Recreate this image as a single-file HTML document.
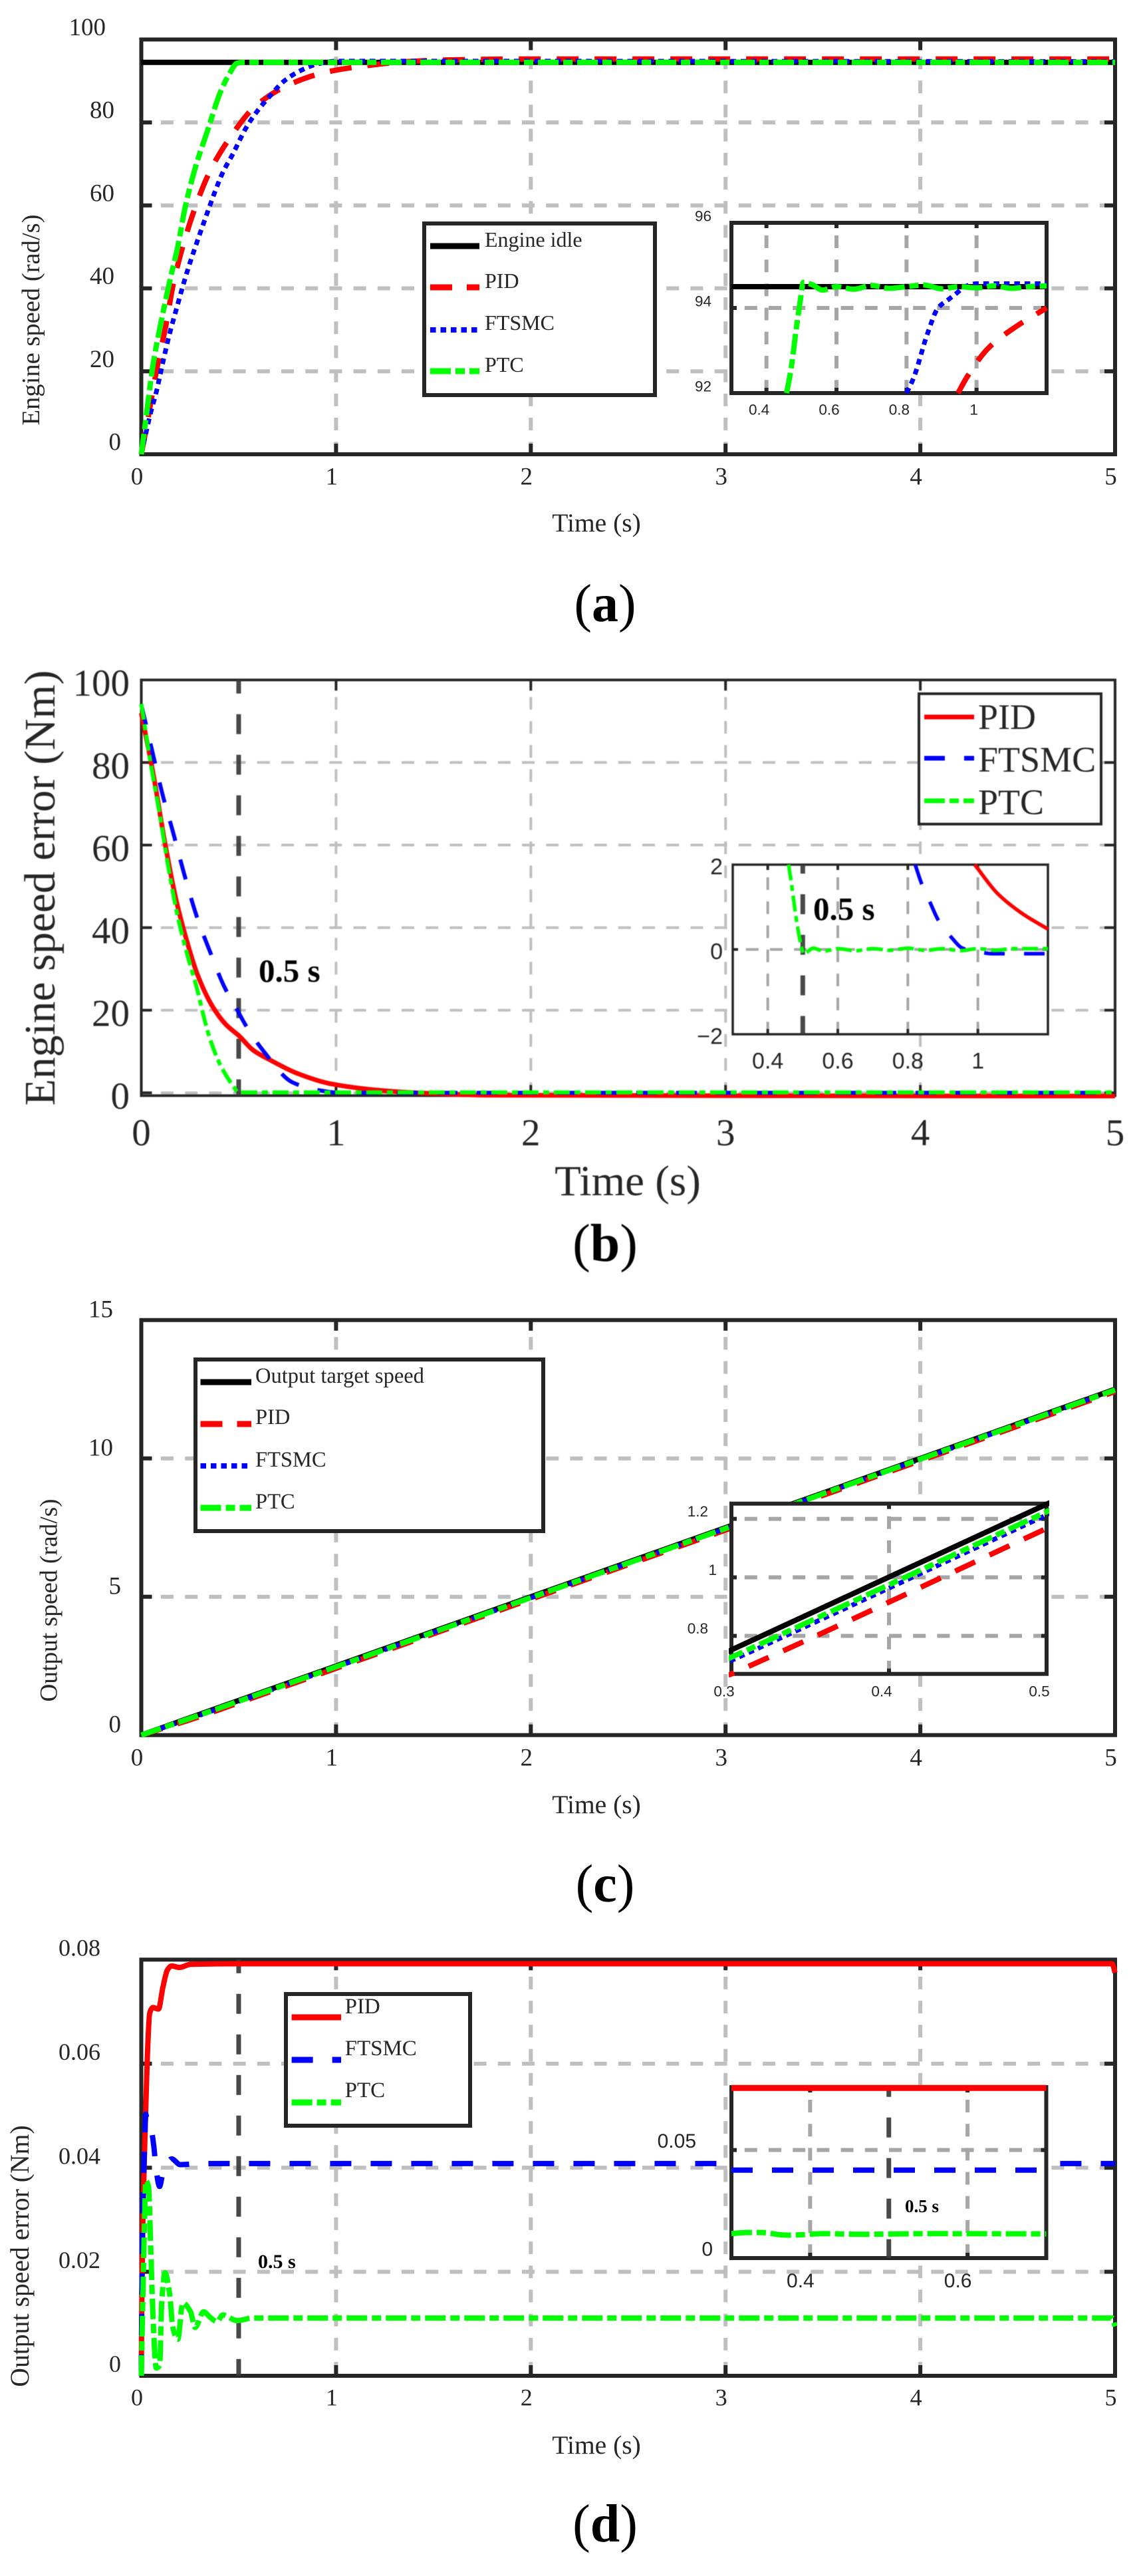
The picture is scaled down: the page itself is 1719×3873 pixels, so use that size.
<!DOCTYPE html>
<html lang="en">
<head>
<meta charset="utf-8">
<title>Engine and output speed tracking charts</title>
<style>
html,body{margin:0;padding:0;background:#fff;}
svg{display:block;}
text{fill:#262626;font-family:"Liberation Serif",serif;}
.sans{font-family:"Liberation Sans",sans-serif;}
.cap{fill:#000;}
.legend-box{fill:#fff;stroke:#262626;}
</style>
</head>
<body>
<svg id="figure" xmlns="http://www.w3.org/2000/svg" width="1719" height="3873" viewBox="0 0 1719 3873">
  <rect x="0" y="0" width="1719" height="3873" fill="#fff"/>

  <!-- PANEL A -->
  <g>
    <g id="a-main"></g>
    <text x="897" y="799" font-size="39.5" text-anchor="middle">Time (s)</text>
    <text transform="translate(59,481) rotate(-90)" font-size="38.6" text-anchor="middle">Engine speed (rad/s)</text>
    <g>
      <rect class="legend-box" x="638" y="336" width="347" height="258" stroke-width="6"/>
      <line x1="647" x2="721" y1="370" y2="370" stroke="#000" stroke-width="9"/>
      <text x="729" y="371" font-size="32">Engine idle</text>
      <line x1="647" x2="721" y1="432" y2="432" stroke="#f00" stroke-width="9" stroke-dasharray="33 22"/>
      <text x="729" y="433" font-size="32">PID</text>
      <line x1="647" x2="721" y1="496" y2="496" stroke="#00f" stroke-width="8" stroke-dasharray="8.5 7"/>
      <text x="729" y="496" font-size="32">FTSMC</text>
      <line x1="647" x2="721" y1="558" y2="558" stroke="#0f0" stroke-width="9" stroke-dasharray="31 7 14 7"/>
      <text x="729" y="559" font-size="32">PTC</text>
    </g>
    <g id="a-inset"></g>
    <text class="cap" x="910" y="934" font-size="80" text-anchor="middle">(<tspan font-weight="bold" class="cap">a</tspan>)</text>
  </g>

  <!-- PANEL B -->
  <g style="filter:blur(0.6px)">
    <g id="b-main"></g>
    <text x="944" y="1797" font-size="65" text-anchor="middle">Time (s)</text>
    <text transform="translate(82,1335) rotate(-90)" font-size="65.7" text-anchor="middle">Engine speed error (Nm)</text>
    <text class="cap" x="389" y="1476" font-size="49" font-weight="bold">0.5 s</text>
    <g>
      <rect class="legend-box" x="1382" y="1043" width="274" height="196" stroke-width="4"/>
      <line x1="1390" x2="1465" y1="1078" y2="1078" stroke="#f00" stroke-width="7"/>
      <text x="1471" y="1096" font-size="54">PID</text>
      <line x1="1390" x2="1465" y1="1140" y2="1140" stroke="#00f" stroke-width="7" stroke-dasharray="31 29"/>
      <text x="1471" y="1160" font-size="54">FTSMC</text>
      <line x1="1390" x2="1465" y1="1204" y2="1204" stroke="#0f0" stroke-width="7" stroke-dasharray="31 7 14 7"/>
      <text x="1471" y="1224" font-size="54">PTC</text>
    </g>
    <g id="b-inset"></g>
    <text class="cap" x="1223" y="1383" font-size="49" font-weight="bold">0.5 s</text>
    <text class="cap" x="910" y="1896" font-size="80" text-anchor="middle">(<tspan font-weight="bold" class="cap">b</tspan>)</text>
  </g>

  <!-- PANEL C -->
  <g>
    <g id="c-main"></g>
    <text x="897" y="2726" font-size="39.5" text-anchor="middle">Time (s)</text>
    <text transform="translate(85.5,2406) rotate(-90)" font-size="37.4" text-anchor="middle">Output speed (rad/s)</text>
    <g>
      <rect class="legend-box" x="294" y="2044" width="523" height="258" stroke-width="6"/>
      <line x1="301.5" x2="378" y1="2078" y2="2078" stroke="#000" stroke-width="9"/>
      <text x="384" y="2079" font-size="32.5">Output target speed</text>
      <line x1="301.5" x2="378" y1="2141" y2="2141" stroke="#f00" stroke-width="9" stroke-dasharray="33 22"/>
      <text x="384" y="2141" font-size="32.5">PID</text>
      <line x1="301.5" x2="378" y1="2204" y2="2204" stroke="#00f" stroke-width="8" stroke-dasharray="8.5 7"/>
      <text x="384" y="2205" font-size="32.5">FTSMC</text>
      <line x1="301.5" x2="378" y1="2267" y2="2267" stroke="#0f0" stroke-width="9" stroke-dasharray="31 7 14 7"/>
      <text x="384" y="2268" font-size="32.5">PTC</text>
    </g>
    <g id="c-inset"></g>
    <text class="cap" x="910" y="2859" font-size="80" text-anchor="middle">(<tspan font-weight="bold" class="cap">c</tspan>)</text>
  </g>

  <!-- PANEL D -->
  <g>
    <g id="d-main"></g>
    <text x="897" y="3689" font-size="39.5" text-anchor="middle">Time (s)</text>
    <text transform="translate(43,3392) rotate(-90)" font-size="39.7" text-anchor="middle">Output speed error (Nm)</text>
    <text class="cap" x="388" y="3410" font-size="30" font-weight="bold">0.5 s</text>
    <g>
      <rect class="legend-box" x="430" y="2998" width="277" height="198" stroke-width="6"/>
      <line x1="438.6" x2="513" y1="3033" y2="3033" stroke="#f00" stroke-width="9"/>
      <text x="518.6" y="3027" font-size="33">PID</text>
      <line x1="438.6" x2="513" y1="3097" y2="3097" stroke="#00f" stroke-width="9" stroke-dasharray="32 29"/>
      <text x="518.6" y="3090" font-size="33">FTSMC</text>
      <line x1="438.6" x2="513" y1="3161" y2="3161" stroke="#0f0" stroke-width="9" stroke-dasharray="31 7 14 7"/>
      <text x="518.6" y="3153" font-size="33">PTC</text>
    </g>
    <g id="d-inset"></g>
    <text class="cap" x="1361" y="3326" font-size="27" font-weight="bold">0.5 s</text>
    <text class="cap" x="910" y="3821" font-size="80" text-anchor="middle">(<tspan font-weight="bold" class="cap">d</tspan>)</text>
  </g>
</svg>

<script>
/* ---------- shared axis values ---------- */
const timeTicks = [0, 1, 2, 3, 4, 5];
const timeTickLabels = ['0', '1', '2', '3', '4', '5'];
const timeGrid = [1, 2, 3, 4];

/* ---------- panel (a) engine speed ---------- */
const aYTicks = [0, 20, 40, 60, 80, 100];
const aYTickLabels = ['0', '20', '40', '60', '80', '100'];
const aYGrid = [20, 40, 60, 80];
const aTimeIdle = [0, 5];
const aIdle = [94.5, 94.5];
const aTimePid = [0, 0.03, 0.06, 0.088, 0.126, 0.162, 0.211, 0.273, 0.35, 0.455, 0.583, 0.763, 0.955, 1.158, 1.37, 1.6, 2, 5];
const aPid = [0, 7.5, 15.5, 22.6, 31, 40.5, 49.8, 59, 68, 76.3, 83.8, 89.2, 92.2, 93.7, 94.7, 95.1, 95.3, 95.3];
const aTimeFtsmc = [0, 0.02, 0.048, 0.077, 0.111, 0.145, 0.185, 0.213, 0.242, 0.276, 0.31, 0.344, 0.379, 0.418, 0.469, 0.538, 0.595, 0.663, 0.731, 0.822, 0.913, 1.005, 5];
const aFtsmc = [0, 4.3, 10, 15, 22.2, 29, 35.8, 40.5, 45, 49.8, 54.4, 58.9, 63.4, 67.9, 72.3, 78.7, 82.7, 86.5, 89.9, 92.6, 94.2, 94.8, 94.7];
const aTimePtc = [0, 0.02, 0.06, 0.1, 0.145, 0.187, 0.225, 0.28, 0.34, 0.407, 0.452, 0.492, 0.52, 5];
const aPtc = [0, 7.2, 21.5, 31.5, 41.5, 50, 59.5, 69.5, 78, 87.4, 91.7, 94.3, 94.5, 94.5];

const aInsetXTicks = [0.4, 0.6, 0.8, 1];
const aInsetXLabels = ['0.4', '0.6', '0.8', '1'];
const aInsetYTicks = [92, 94, 96];
const aInsetYLabels = ['92', '94', '96'];
const aInsetYGrid = [94];
const aInsetTimeIdle = [0.3, 1.2];
const aInsetIdle = [94.5, 94.5];
const aInsetTimePid = [0.947, 0.973, 1.033, 1.116, 1.194, 1.2];
const aInsetPid = [92, 92.38, 93.05, 93.58, 93.97, 94];
const aInsetTimeFtsmc = [0.8, 0.82, 0.86, 0.89, 0.92, 0.945, 0.966, 1, 1.2];
const aInsetFtsmc = [92, 92.35, 93.4, 94, 94.2, 94.36, 94.5, 94.57, 94.57];
const aInsetTimePtc = [0.4576, 0.47, 0.485, 0.498, 0.505, 0.53, 0.56, 0.6, 0.65, 0.7, 0.75, 0.8, 0.85, 0.9, 0.95, 1, 1.05, 1.1, 1.15, 1.2];
const aInsetPtc = [92, 92.55, 93.5, 94.25, 94.6, 94.55, 94.42, 94.5, 94.44, 94.53, 94.46, 94.5, 94.54, 94.45, 94.5, 94.47, 94.52, 94.46, 94.5, 94.52];

/* ---------- panel (b) engine speed error ---------- */
const bYTicks = [0, 20, 40, 60, 80, 100];
const bYTickLabels = ['0', '20', '40', '60', '80', '100'];
const bYGrid = [0, 20, 40, 60, 80];
const bTimePid = [0, 0.06, 0.122, 0.179, 0.23, 0.287, 0.367, 0.435, 0.504, 0.572, 0.663, 0.8, 0.97, 1.2, 1.37, 1.8, 5];
const bPid = [92, 77.6, 60.4, 46.7, 37.4, 28.8, 20.8, 16.5, 13.7, 10.4, 7.9, 4.7, 2.2, 0.7, 0.1, -0.6, -0.8];
const bTimeFtsmc = [0, 0.06, 0.111, 0.162, 0.219, 0.287, 0.356, 0.424, 0.492, 0.538, 0.629, 0.777, 0.913, 1.016, 5];
const bFtsmc = [94, 82, 71.9, 63.3, 53.2, 42.4, 33.8, 25.9, 20.1, 16.2, 10, 2.5, 0.6, 0, 0];
const bTimePtc = [0, 0.048, 0.094, 0.139, 0.185, 0.23, 0.282, 0.344, 0.401, 0.475, 0.498, 5];
const bPtc = [94.2, 79.8, 67.6, 54.6, 43.1, 34.5, 25.9, 14.4, 7.2, 1.4, 0.1, 0.1];

const bInsetXTicks = [0.4, 0.6, 0.8, 1];
const bInsetXLabels = ['0.4', '0.6', '0.8', '1'];
const bInsetYTicks = [-2, 0, 2];
const bInsetYLabels = ['\u22122', '0', '2'];
const bInsetYGrid = [0];
const bInsetTimePid = [0.991, 1.056, 1.126, 1.2];
const bInsetPid = [2, 1.32, 0.85, 0.48];
const bInsetTimeFtsmc = [0.821, 0.838, 0.864, 0.887, 0.926, 0.956, 1, 1.04, 1.2];
const bInsetFtsmc = [2, 1.58, 1.1, 0.69, 0.27, 0.03, -0.05, -0.1, -0.1];
const bInsetTimePtc = [0.4595, 0.468, 0.482, 0.495, 0.503, 0.53, 0.56, 0.6, 0.65, 0.7, 0.75, 0.8, 0.85, 0.9, 0.95, 1, 1.05, 1.1, 1.2];
const bInsetPtc = [2, 1.53, 0.69, 0.11, -0.1, 0.03, -0.04, 0.02, -0.03, 0.02, -0.02, 0.03, -0.02, 0.02, -0.03, 0.02, -0.02, 0.02, 0.02];

/* ---------- panel (c) output speed ---------- */
const cYTicks = [0, 5, 10, 15];
const cYTickLabels = ['0', '5', '10', '15'];
const cYGrid = [5, 10];
const cTime = [0, 0.3, 0.5, 5];
const cTarget = [0, 0.752, 1.25, 12.5];
const cPid = [0, 0.67, 1.167, 12.417];
const cFtsmc = [0, 0.716, 1.213, 12.465];
const cPtc = [0, 0.727, 1.224, 12.475];

const cInsetXTicks = [0.3, 0.4, 0.5];
const cInsetXLabels = ['0.3', '0.4', '0.5'];
const cInsetXGrid = [0.4];
const cInsetYTicks = [0.8, 1, 1.2];
const cInsetYLabels = ['0.8', '1', '1.2'];

/* ---------- panel (d) output speed error ---------- */
const dYTicks = [0, 0.02, 0.04, 0.06, 0.08];
const dYTickLabels = ['0', '0.02', '0.04', '0.06', '0.08'];
const dYGrid = [0.02, 0.04, 0.06];
const dTimePid = [0, 0.003, 0.0085, 0.02, 0.031, 0.043, 0.06, 0.088, 0.111, 0.134, 0.156, 0.196, 0.253, 0.5, 4.985, 5];
const dPid = [0, 0.016, 0.0309, 0.0475, 0.0613, 0.0697, 0.0708, 0.0705, 0.0747, 0.078, 0.0788, 0.0785, 0.0791, 0.0792, 0.0792, 0.0775];
const dTimeFtsmc = [0, 0.004, 0.01, 0.016, 0.023, 0.03, 0.05, 0.065, 0.075, 0.094, 0.108, 0.122, 0.156, 0.2, 0.31, 5];
const dFtsmc = [0, 0.02, 0.035, 0.043, 0.0503, 0.049, 0.0475, 0.0439, 0.04, 0.0364, 0.0385, 0.04, 0.0417, 0.0406, 0.0408, 0.0408];
const dTimePtc = [0, 0.014, 0.023, 0.037, 0.048, 0.06, 0.077, 0.094, 0.105, 0.122, 0.145, 0.162, 0.187, 0.213, 0.253, 0.276, 0.32, 0.355, 0.39, 0.418, 0.492, 0.572, 4.985, 5];
const dPtc = [0, 0.0253, 0.0375, 0.0364, 0.0253, 0.0115, 0.0015, 0.002, 0.0142, 0.0198, 0.0159, 0.0093, 0.007, 0.014, 0.0123, 0.0093, 0.0123, 0.0112, 0.0104, 0.0117, 0.0106, 0.0111, 0.0111, 0.0095];

const dInsetXTicks = [0.4, 0.6];
const dInsetXLabels = ['0.4', '0.6'];
const dInsetYTicks = [0, 0.05];
const dInsetYLabels = ['0', '0.05'];
const dInsetYGrid = [0.05];
const dInsetTime = [0.3, 0.7];
const dInsetPid = [0.0787, 0.0787];
const dInsetFtsmc = [0.0407, 0.0407];
const dInsetTimePtc = [0.3, 0.319, 0.338, 0.3695, 0.3895, 0.416, 0.466, 0.55, 0.7];
const dInsetPtc = [0.0113, 0.0118, 0.0118, 0.0106, 0.0108, 0.0113, 0.011, 0.0113, 0.0112];

/* ---------- drawing helpers ---------- */
const SVG_NS = 'http://www.w3.org/2000/svg';
const FRAME = '#262626';
function add(tag, parent, attrs, text) {
  const node = document.createElementNS(SVG_NS, tag);
  for (const key in attrs) node.setAttribute(key, attrs[key]);
  if (text !== undefined) node.textContent = text;
  parent.appendChild(node);
  return node;
}
function scale(d0, d1, r0, r1) {
  return function (v) { return r0 + (v - d0) * (r1 - r0) / (d1 - d0); };
}
/* monotone cubic through the data points: smooth, with no overshoot */
function curvePath(xs, ys) {
  const n = xs.length;
  if (n < 3) return 'M' + xs[0] + ' ' + ys[0] + 'L' + xs[n - 1] + ' ' + ys[n - 1];
  const h = [], m = [], d = [];
  for (let i = 0; i < n - 1; i++) {
    h.push(xs[i + 1] - xs[i]);
    m.push((ys[i + 1] - ys[i]) / h[i]);
  }
  d.push(m[0]);
  for (let i = 1; i < n - 1; i++) {
    if (m[i - 1] * m[i] <= 0) d.push(0);
    else {
      const w1 = 2 * h[i] + h[i - 1], w2 = h[i] + 2 * h[i - 1];
      d.push((w1 + w2) / (w1 / m[i - 1] + w2 / m[i]));
    }
  }
  d.push(m[n - 2]);
  let path = 'M' + xs[0].toFixed(2) + ' ' + ys[0].toFixed(2);
  for (let i = 0; i < n - 1; i++) {
    const c = h[i] / 3;
    path += 'C' + (xs[i] + c).toFixed(2) + ' ' + (ys[i] + d[i] * c).toFixed(2) + ' ' +
      (xs[i + 1] - c).toFixed(2) + ' ' + (ys[i + 1] - d[i + 1] * c).toFixed(2) + ' ' +
      xs[i + 1].toFixed(2) + ' ' + ys[i + 1].toFixed(2);
  }
  return path;
}
let clipCount = 0;

function drawPlot(id, p) {
  const g = document.getElementById(id);
  const b = p.box;
  const x = scale(p.xlim[0], p.xlim[1], b.l, b.r);
  const y = scale(p.ylim[0], p.ylim[1], b.b, b.t);

  if (p.white) {
    const bg = add('rect', g, { x: b.l, y: b.t, width: b.r - b.l, height: b.b - b.t, fill: '#fff' });
    
    
  }

  p.xGrid.forEach(function (t) {
    const el = add('line', g, { x1: x(t), x2: x(t), y1: b.t, y2: b.b, stroke: p.gridColor, 'stroke-width': p.gridWidth, 'stroke-dasharray': '19 17.2', 'stroke-dashoffset': p.vPhase });
    
    
  });
  p.yGrid.forEach(function (v) {
    const el = add('line', g, { x1: b.l, x2: b.r, y1: y(v), y2: y(v), stroke: p.gridColor, 'stroke-width': p.gridWidth, 'stroke-dasharray': '19 17.2', 'stroke-dashoffset': p.hPhase });
    
    
  });

  const frame = add('rect', g, { x: b.l, y: b.t, width: b.r - b.l, height: b.b - b.t, fill: 'none', stroke: FRAME, 'stroke-width': p.frameWidth });
  
  

  p.xGrid.forEach(function (t) {
    [[b.b, b.b - p.tickLen], [b.t, b.t + p.tickLen]].forEach(function (ends) {
      const el = add('line', g, { x1: x(t), x2: x(t), y1: ends[0], y2: ends[1], stroke: FRAME, 'stroke-width': p.tickWidth });
      
      
    });
  });
  p.yGrid.forEach(function (v) {
    [[b.l, b.l + p.tickLen], [b.r, b.r - p.tickLen]].forEach(function (ends) {
      const el = add('line', g, { x1: ends[0], x2: ends[1], y1: y(v), y2: y(v), stroke: FRAME, 'stroke-width': p.tickWidth });
      
      
    });
  });

  p.xTicks.forEach(function (t, i) {
    const shift = p.xLabelShift(p.xLabels[i]);
    const el = add('text', g, { x: x(t) + shift, y: p.xLabelCy + 0.34 * p.labelSize, 'font-size': p.labelSize, 'text-anchor': 'middle', class: p.sans ? 'sans' : '' }, p.xLabels[i]);
    
    
  });
  p.yTicks.forEach(function (v, i) {
    const el = add('text', g, { x: p.yLabelRight(p.yLabels[i]), y: y(v) + p.yLabelDy + 0.34 * p.labelSize, 'font-size': p.labelSize, 'text-anchor': 'end', class: p.sans ? 'sans' : '' }, p.yLabels[i]);
    
    
  });

  if (p.marker !== undefined) {
    const mk = add('line', g, { x1: x(p.marker), x2: x(p.marker), y1: b.t, y2: b.b, stroke: '#3a3a3a', 'stroke-width': 7, 'stroke-opacity': 0.92, 'stroke-dasharray': '30 31', 'stroke-dashoffset': p.markerPhase });
    
    
  }

  clipCount += 1;
  const clipId = 'clip-' + clipCount;
  const defs = add('clipPath', g, { id: clipId });
  add('rect', defs, { x: b.l - 4, y: b.t - 5, width: b.r - b.l + 8, height: b.b - b.t + 10 });

  p.series.forEach(function (s) {
    const d = curvePath(s.t.map(x), s.v.map(y));
    const el = add('path', g, { d: d, fill: 'none', stroke: s.color, 'stroke-width': s.width, 'stroke-dasharray': s.dash || 'none', 'stroke-linejoin': 'round', 'clip-path': 'url(#' + clipId + ')' });
    
    
  });
}

const DOT = '8.5 7', RDASH = '33 24', BDASH = '31 29', GDASH = '31 7 14 7';
const mainBase = { xlim: [0, 5], xTicks: timeTicks, xLabels: timeTickLabels, xGrid: timeGrid, gridColor: '#bfbfbf', hPhase: 6.7, vPhase: 10.6, labelSize: 37 };
const insetBase = { gridColor: '#a6a6a6', gridWidth: 6, hPhase: 16.4, vPhase: 17.2, tickLen: 8, tickWidth: 6, frameWidth: 6, white: true, sans: true };
const shiftMain = function () { return -6.5; };
const rightSerif = function (s) { return s.length === 1 ? 182 : (s.length === 2 ? 172 : 159); };

/* panel a */
drawPlot('a-main', Object.assign({}, mainBase, {
  box: { l: 212.5, r: 1677, t: 59.4, b: 683 }, ylim: [0, 100],
  yTicks: aYTicks, yLabels: aYTickLabels, yGrid: aYGrid,
  gridWidth: 6, frameWidth: 6, tickLen: 16, tickWidth: 6,
  xLabelCy: 716, xLabelShift: shiftMain, yLabelRight: rightSerif, yLabelDy: -19,
  series: [
    { name: 'engine-idle', t: aTimeIdle, v: aIdle, color: '#000', width: 8 },
    { name: 'pid', t: aTimePid, v: aPid, color: '#f00', width: 8, dash: RDASH },
    { name: 'ftsmc', t: aTimeFtsmc, v: aFtsmc, color: '#00f', width: 7, dash: DOT },
    { name: 'ptc', t: aTimePtc, v: aPtc, color: '#0f0', width: 8, dash: GDASH }
  ]
}));
drawPlot('a-inset', Object.assign({}, insetBase, {
  box: { l: 1100, r: 1574, t: 335, b: 591 }, xlim: [0.3, 1.2], ylim: [92, 96],
  xTicks: aInsetXTicks, xLabels: aInsetXLabels, xGrid: aInsetXTicks,
  yTicks: aInsetYTicks, yLabels: aInsetYLabels, yGrid: aInsetYGrid,
  labelSize: 22.5, xLabelCy: 616,
  xLabelShift: function (s) { return s === '1' ? -4 : -11; },
  yLabelRight: function () { return 1070; }, yLabelDy: -10,
  series: [
    { name: 'engine-idle', t: aInsetTimeIdle, v: aInsetIdle, color: '#000', width: 8 },
    { name: 'pid', t: aInsetTimePid, v: aInsetPid, color: '#f00', width: 8, dash: RDASH },
    { name: 'ftsmc', t: aInsetTimeFtsmc, v: aInsetFtsmc, color: '#00f', width: 7, dash: DOT },
    { name: 'ptc', t: aInsetTimePtc, v: aInsetPtc, color: '#0f0', width: 8, dash: GDASH }
  ]
}));

/* panel b */
drawPlot('b-main', Object.assign({}, mainBase, {
  box: { l: 212.5, r: 1677, t: 1022.3, b: 1647.3 }, ylim: [-0.7, 100],
  yTicks: bYTicks, yLabels: bYTickLabels, yGrid: bYGrid,
  gridWidth: 4, frameWidth: 4, tickLen: 16, tickWidth: 4, labelSize: 57,
  xLabelCy: 1702.6, xLabelShift: function () { return 0; },
  yLabelRight: function () { return 195; }, yLabelDy: 4.5,
  marker: 0.5, markerPhase: 9.6,
  series: [
    { name: 'pid', t: bTimePid, v: bPid, color: '#f00', width: 7 },
    { name: 'ftsmc', t: bTimeFtsmc, v: bFtsmc, color: '#00f', width: 6, dash: BDASH },
    { name: 'ptc', t: bTimePtc, v: bPtc, color: '#0f0', width: 6, dash: '24 7 9 7' }
  ]
}));
drawPlot('b-inset', Object.assign({}, insetBase, {
  box: { l: 1102, r: 1576, t: 1300, b: 1555 }, xlim: [0.3, 1.2], ylim: [-2, 2],
  xTicks: bInsetXTicks, xLabels: bInsetXLabels, xGrid: bInsetXTicks,
  yTicks: bInsetYTicks, yLabels: bInsetYLabels, yGrid: bInsetYGrid,
  gridWidth: 4, tickWidth: 4, frameWidth: 3.5,
  labelSize: 34, xLabelCy: 1595, xLabelShift: function () { return 0; },
  yLabelRight: function () { return 1087; }, yLabelDy: 3,
  marker: 0.5, markerPhase: 16.5,
  series: [
    { name: 'pid', t: bInsetTimePid, v: bInsetPid, color: '#f00', width: 5.5 },
    { name: 'ftsmc', t: bInsetTimeFtsmc, v: bInsetFtsmc, color: '#00f', width: 5.5, dash: BDASH },
    { name: 'ptc', t: bInsetTimePtc, v: bInsetPtc, color: '#0f0', width: 5.5, dash: '24 7 9 7' }
  ]
}));

/* panel c */
drawPlot('c-main', Object.assign({}, mainBase, {
  box: { l: 212.5, r: 1677, t: 1984.7, b: 2608.7 }, ylim: [0, 15],
  yTicks: cYTicks, yLabels: cYTickLabels, yGrid: cYGrid,
  gridWidth: 6, frameWidth: 6, tickLen: 16, tickWidth: 6,
  xLabelCy: 2642, xLabelShift: shiftMain,
  yLabelRight: function (s) { return s.length === 1 ? 182 : 170; }, yLabelDy: -17,
  series: [
    { name: 'target', t: cTime, v: cTarget, color: '#000', width: 8 },
    { name: 'pid', t: cTime, v: cPid, color: '#f00', width: 8, dash: RDASH },
    { name: 'ftsmc', t: cTime, v: cFtsmc, color: '#00f', width: 7, dash: DOT },
    { name: 'ptc', t: cTime, v: cPtc, color: '#0f0', width: 8, dash: GDASH }
  ]
}));
drawPlot('c-inset', Object.assign({}, insetBase, {
  box: { l: 1100, r: 1574, t: 2260.7, b: 2516.7 }, xlim: [0.3, 0.5], ylim: [0.67, 1.252],
  xTicks: cInsetXTicks, xLabels: cInsetXLabels, xGrid: cInsetXGrid,
  yTicks: cInsetYTicks, yLabels: cInsetYLabels, yGrid: cInsetYTicks,
  labelSize: 22.5, xLabelCy: 2542.7, xLabelShift: function () { return -11; },
  yLabelRight: function (s) { return s === '1' ? 1078 : 1065; }, yLabelDy: -11,
  series: [
    { name: 'target', t: cTime, v: cTarget, color: '#000', width: 8 },
    { name: 'pid', t: cTime, v: cPid, color: '#f00', width: 8, dash: RDASH },
    { name: 'ftsmc', t: cTime, v: cFtsmc, color: '#00f', width: 7, dash: DOT },
    { name: 'ptc', t: cTime, v: cPtc, color: '#0f0', width: 8, dash: GDASH }
  ]
}));

/* panel d */
drawPlot('d-main', Object.assign({}, mainBase, {
  box: { l: 212.5, r: 1677, t: 2946.3, b: 3572 }, ylim: [0, 0.08],
  yTicks: dYTicks, yLabels: dYTickLabels, yGrid: dYGrid,
  gridWidth: 6, frameWidth: 6, tickLen: 16, tickWidth: 6, labelSize: 36,
  xLabelCy: 3604.5, xLabelShift: shiftMain,
  yLabelRight: function (s) { return s.length === 1 ? 182 : 151; }, yLabelDy: -18,
  marker: 0.5, markerPhase: 9.6,
  series: [
    { name: 'pid', t: dTimePid, v: dPid, color: '#f00', width: 8 },
    { name: 'ftsmc', t: dTimeFtsmc, v: dFtsmc, color: '#00f', width: 8, dash: '32 29' },
    { name: 'ptc', t: dTimePtc, v: dPtc, color: '#0f0', width: 8, dash: GDASH }
  ]
}));
drawPlot('d-inset', Object.assign({}, insetBase, {
  box: { l: 1100, r: 1573.5, t: 3138, b: 3395 }, xlim: [0.3, 0.7], ylim: [0, 0.0791],
  xTicks: dInsetXTicks, xLabels: dInsetXLabels, xGrid: dInsetXTicks,
  yTicks: dInsetYTicks, yLabels: dInsetYLabels, yGrid: dInsetYGrid,
  labelSize: 30, xLabelCy: 3428.9, xLabelShift: function () { return -14.5; },
  yLabelRight: function (s) { return s === '0' ? 1072 : 1047; }, yLabelDy: -13.5,
  marker: 0.5, markerPhase: 15.4,
  series: [
    { name: 'pid', t: dInsetTime, v: dInsetPid, color: '#f00', width: 9 },
    { name: 'ftsmc', t: dInsetTime, v: dInsetFtsmc, color: '#00f', width: 8, dash: '32 29' },
    { name: 'ptc', t: dInsetTimePtc, v: dInsetPtc, color: '#0f0', width: 8, dash: GDASH }
  ]
}));
</script>
</body>
</html>
